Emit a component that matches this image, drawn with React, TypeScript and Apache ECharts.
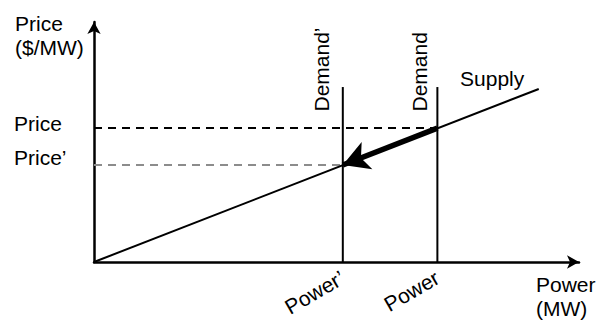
import React, { useEffect, useRef } from 'react';
import * as echarts from 'echarts';

// ---- data (arbitrary units) ----
const xTickLabels = ['Power’', 'Power'];
const yTickLabels = ['Price’', 'Price'];
const powerValues = [5.13, 7.08]; // Power', Power
const priceValues = [4.04, 5.58]; // Price', Price
const supplyPoints = [[0, 0], [9.17, 7.21]];
const demandTop = 7.29;
const demandNames = ['Demand’', 'Demand'];
const supplyName = 'Supply';
const yAxisName = 'Price\n($/MW)';
const xAxisName = 'Power\n(MW)';

const FONT = '"Liberation Sans", Arial, Helvetica, sans-serif';
const FS = 21;

export default function App() {
  const ref = useRef<HTMLDivElement>(null);
  useEffect(() => {
    if (!ref.current) return;
    const chart = echarts.init(ref.current, undefined, { renderer: 'svg' });
    const txt = { color: '#000', fontFamily: FONT, fontSize: FS, opacity: 1 };
    const option: any = {
      animation: false,
      backgroundColor: '#fff',
      grid: { left: 94, top: 22, right: 21, bottom: 58, outerBoundsMode: 'none' },
      xAxis: {
        type: 'value',
        min: 0,
        max: 10,
        axisLine: {
          show: true,
          lineStyle: { color: '#000', width: 2.5 },
          symbol: ['none', 'arrow'],
          symbolSize: [10, 12],
        },
        axisTick: { show: false },
        splitLine: { show: false },
        axisLabel: {
          ...txt,
          customValues: powerValues,
          formatter: (v: number) => (v === powerValues[1] ? xTickLabels[1] : xTickLabels[0]),
          rotate: 30,
          margin: 14,
        },
      },
      yAxis: {
        type: 'value',
        min: 0,
        max: 10,
        axisLine: {
          show: true,
          lineStyle: { color: '#000', width: 2.5 },
          symbol: ['none', 'arrow'],
          symbolSize: [10, 12],
        },
        axisTick: { show: false },
        splitLine: { show: false },
        axisLabel: {
          ...txt,
          customValues: priceValues,
          formatter: (v: number) => (v === priceValues[1] ? '{a|' + yTickLabels[1] + '}' : '{b|' + yTickLabels[0] + '}'),
          align: 'left',
          margin: 80,
          rich: {
            a: { ...txt, padding: [0, 0, 10, 0] },
            b: { ...txt, padding: [0, 0, 15, 0] },
          },
        },
      },
      graphic: [
        { type: 'text', left: 15, top: 11, style: { text: yAxisName, font: FS + 'px ' + FONT, lineHeight: 24, fill: '#000' } },
        { type: 'text', left: 536, top: 272, style: { text: xAxisName, font: FS + 'px ' + FONT, lineHeight: 24, fill: '#000' } },
      ],
      series: [
        {
          type: 'line',
          data: [[0, priceValues[1]], [powerValues[1], priceValues[1]]],
          symbol: 'none',
          lineStyle: { color: '#000', width: 2, type: [8, 6] },
          z: 1,
        },
        {
          type: 'line',
          data: [[0, priceValues[0]], [powerValues[0], priceValues[0]]],
          symbol: 'none',
          lineStyle: { color: '#8c8c8c', width: 2, type: [8, 6] },
          z: 1,
        },
        {
          type: 'line',
          data: [[powerValues[0], 0], [powerValues[0], demandTop]],
          symbol: 'none',
          lineStyle: { color: '#000', width: 2 },
          z: 2,
        },
        {
          type: 'line',
          data: [[powerValues[1], 0], [powerValues[1], demandTop]],
          symbol: 'none',
          lineStyle: { color: '#000', width: 2 },
          z: 2,
        },
        {
          type: 'line',
          data: supplyPoints,
          symbol: 'none',
          lineStyle: { color: '#000', width: 2 },
          z: 3,
          markLine: {
            silent: true,
            symbol: ['none', 'arrow'],
            symbolSize: [22, 26],
            label: { show: false },
            lineStyle: { color: '#000', width: 5.5, type: 'solid' },
            data: [[
              { coord: [powerValues[1], priceValues[1]] },
              { coord: [powerValues[0], priceValues[0]] },
            ]],
          },
        },
        {
          type: 'scatter',
          symbolSize: 1,
          itemStyle: { color: 'rgba(0,0,0,0)', opacity: 1 },
          silent: true,
          z: 5,
          data: [
            {
              value: supplyPoints[1],
              label: { show: true, ...txt, formatter: supplyName, position: [-14, 1], align: 'right', verticalAlign: 'bottom' },
            },
            {
              value: [powerValues[0], demandTop],
              label: { show: true, ...txt, formatter: demandNames[0], rotate: 90, position: [-10, 25], align: 'left', verticalAlign: 'bottom' },
            },
            {
              value: [powerValues[1], demandTop],
              label: { show: true, ...txt, formatter: demandNames[1], rotate: 90, position: [-7, 25], align: 'left', verticalAlign: 'bottom' },
            },
          ],
        },
      ],
    };
    chart.setOption(option);
    return () => chart.dispose();
  }, []);
  return <div ref={ref} style={{ position: 'fixed', left: 0, top: 0, width: 600, height: 320 }} />;
}
